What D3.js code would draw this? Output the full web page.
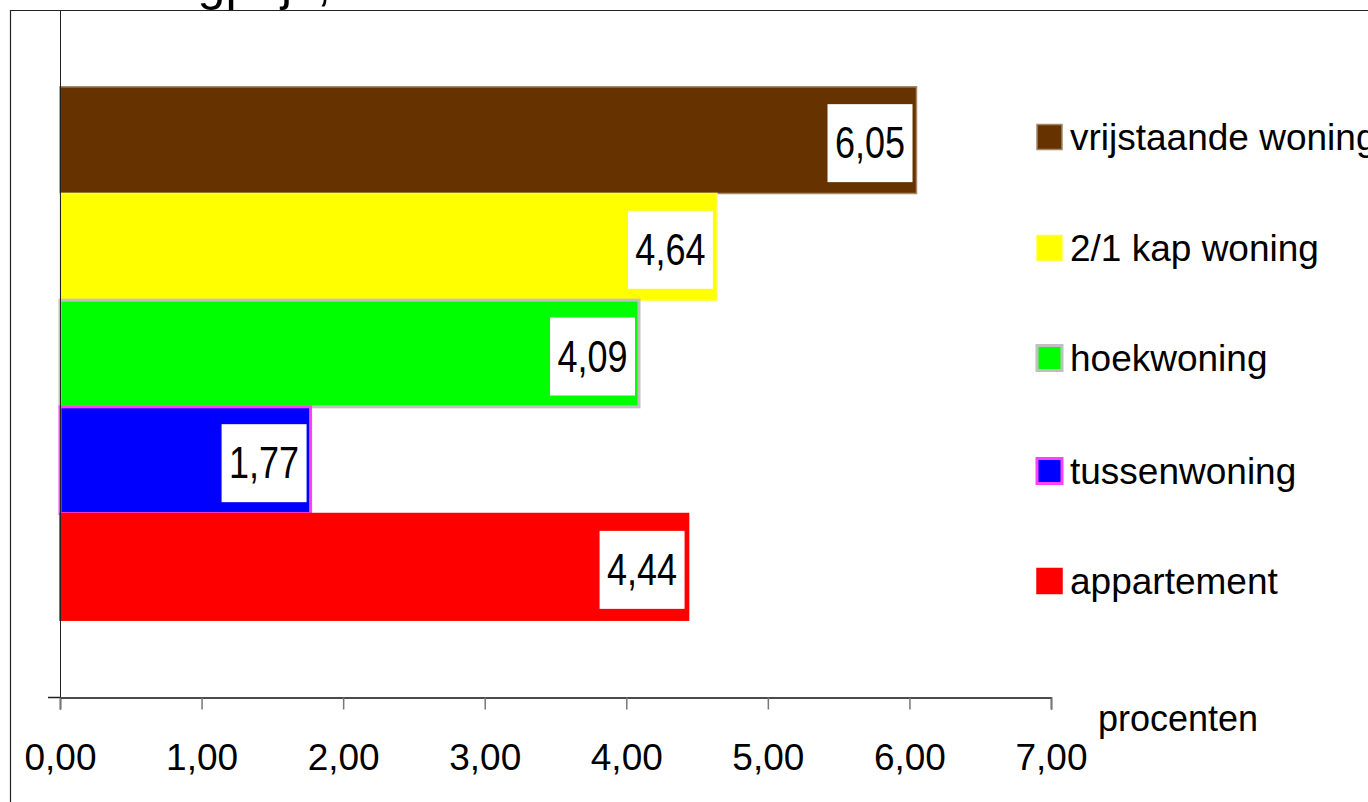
<!DOCTYPE html>
<html>
<head>
<meta charset="utf-8">
<script src="https://cdn.jsdelivr.net/npm/d3@7"></script>
<style>
  html, body { margin: 0; padding: 0; background: #fff; }
  svg { display: block; }
</style>
</head>
<body>
<svg id="chart" width="1368" height="802"></svg>
<script>
// Woningtypen, van boven naar beneden
const categories = ["vrijstaande woning", "2/1 kap woning", "hoekwoning", "tussenwoning", "appartement"];
const values = [6.05, 4.64, 4.09, 1.77, 4.44];
const fills = ["#663300", "#ffff00", "#00ff00", "#0000ff", "#ff0000"];
const strokes = ["#a08868", "#ffff40", "#c0c0c0", "#ff40ff", "#ff0000"];
const strokeWidths = [1.5, 1.5, 3, 3, 1.5];
const tickValues = [0, 1, 2, 3, 4, 5, 6, 7];
const axisTitle = "procenten";
const chartTitle = "Woningprijs,";

const fmt = v => d3.format(".2f")(v).replace(".", ",");

const svg = d3.select("#chart");
const W = 1368, H = 802;

// Plot area
const plot = { left: 60, right: 1051, top: 10, bottom: 697 };

const x = d3.scaleLinear().domain([0, 7]).range([plot.left, plot.right]);
const y = d3.scaleBand().domain(categories).range([plot.top, plot.bottom])
  .paddingInner(0).paddingOuter(0.72);

// Title (largely above the top edge of the page)
svg.append("text")
  .attr("x", 331).attr("y", 0)
  .attr("text-anchor", "end")
  .attr("font-family", "'Liberation Sans', Arial, sans-serif")
  .attr("font-size", 50)
  .attr("fill", "#000")
  .text(chartTitle);

// Outer frame
svg.append("path")
  .attr("d", `M10.5,${H} V10.5 H${W}`)
  .attr("fill", "none").attr("stroke", "#222").attr("stroke-width", 1.2);

// Bars
const bars = svg.append("g");
bars.selectAll("rect")
  .data(values)
  .join("rect")
  .attr("x", x(0))
  .attr("y", (d, i) => y(categories[i]))
  .attr("width", d => x(d) - x(0))
  .attr("height", y.bandwidth())
  .attr("fill", (d, i) => fills[i])
  .attr("stroke", (d, i) => strokes[i])
  .attr("stroke-width", (d, i) => strokeWidths[i]);

// Value labels in white boxes at the end of each bar
const lblW = 85, lblH = 78;
const labels = svg.append("g");
values.forEach((v, i) => {
  const cy = y(categories[i]) + y.bandwidth() / 2 + 3;
  const rx = x(v) - 4;
  labels.append("rect")
    .attr("x", rx - lblW).attr("y", cy - lblH / 2)
    .attr("width", lblW).attr("height", lblH)
    .attr("fill", "#fff");
  labels.append("text")
    .attr("transform", `translate(${rx - lblW / 2},${cy + 15}) scale(0.8,1)`)
    .attr("text-anchor", "middle")
    .attr("font-family", "'Liberation Sans', Arial, sans-serif")
    .attr("font-size", 45)
    .attr("fill", "#000")
    .text(fmt(v));
});

// Vertical (category) axis line
svg.append("line")
  .attr("x1", plot.left + 0.5).attr("x2", plot.left + 0.5)
  .attr("y1", plot.top).attr("y2", plot.bottom + 12)
  .attr("stroke", "#222").attr("stroke-width", 1);

// Category axis tick crossing at the bottom
svg.append("line")
  .attr("x1", plot.left - 12).attr("x2", plot.left)
  .attr("y1", plot.bottom + 0.5).attr("y2", plot.bottom + 0.5)
  .attr("stroke", "#222").attr("stroke-width", 1.5);

// Value axis
const xAxis = d3.axisBottom(x).tickValues(tickValues).tickSize(12).tickPadding(34).tickFormat(fmt);
const gx = svg.append("g").attr("transform", `translate(0,${plot.bottom + 0.5})`).call(xAxis);
gx.select(".domain").attr("stroke", "#111").attr("stroke-width", 1.5);
gx.selectAll(".tick line").attr("stroke", "#777").attr("stroke-width", 1.5);
gx.selectAll(".tick text")
  .attr("font-family", "'Liberation Sans', Arial, sans-serif")
  .attr("font-size", 37)
  .attr("fill", "#000");

svg.append("text")
  .attr("x", 1098).attr("y", 731)
  .attr("font-family", "'Liberation Sans', Arial, sans-serif")
  .attr("font-size", 36)
  .attr("fill", "#000")
  .text(axisTitle);

// Legend
const legendY = [137, 248, 358, 471, 581];
const legend = svg.append("g");
categories.forEach((c, i) => {
  const s = 25;
  legend.append("rect")
    .attr("x", 1037).attr("y", legendY[i] - s / 2)
    .attr("width", s).attr("height", s)
    .attr("fill", fills[i])
    .attr("stroke", strokes[i])
    .attr("stroke-width", strokeWidths[i] > 2 ? 3 : 1.5);
  legend.append("text")
    .attr("x", 1070).attr("y", legendY[i] + 13)
    .attr("font-family", "'Liberation Sans', Arial, sans-serif")
    .attr("font-size", 37)
    .attr("fill", "#000")
    .text(c);
});
</script>
</body>
</html>
